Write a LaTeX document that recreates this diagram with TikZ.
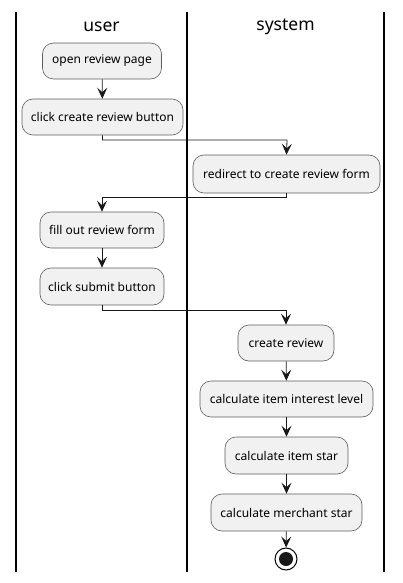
\documentclass[tikz,border=0pt]{standalone}
\usepackage{fontspec}
\setmainfont{Noto Sans}
\usetikzlibrary{arrows.meta}
\definecolor{boxfill}{HTML}{F1F1F1}
\definecolor{boxline}{HTML}{181818}
\tikzset{
  act/.style={draw=boxline!70, fill=boxfill, rounded corners=11pt, line width=0.6pt,
    minimum height=36pt, inner sep=0pt, font=\fontsize{12}{14}\selectfont},
  flow/.style={draw=boxline, line width=0.8pt, -{Stealth[length=11pt,width=10pt,inset=4.5pt]}},
  lane/.style={draw=black, line width=1.3pt},
  lanetitle/.style={font=\fontsize{17.5}{20}\selectfont, inner sep=0pt}
}
\begin{document}
\begin{tikzpicture}[x=1pt,y=-1pt]
\useasboundingbox (0,0) rectangle (402,583);
\coordinate (l1t) at (16,12); \coordinate (l1b) at (16,572);
\coordinate (l2t) at (187,12); \coordinate (l2b) at (187,572);
\coordinate (l3t) at (384,12); \coordinate (l3b) at (384,572);
\draw[lane] (l1t) -- (l1b);
\draw[lane] (l2t) -- (l2b);
\draw[lane] (l3t) -- (l3b);
\node[lanetitle] (tu) at (101.5,27) {user};
\node[lanetitle] (ts) at (285.5,27) {system};

\node[act, minimum width=119pt] (a1) at (102,61) {open review page};
\node[act, minimum width=161pt] (a2) at (102.5,117) {click create review button};
\node[act, minimum width=187pt, minimum height=38pt] (a3) at (286.5,174) {redirect to create review form};
\node[act, minimum width=124pt] (a4) at (102,230) {fill out review form};
\node[act, minimum width=124pt, minimum height=37pt] (a5) at (102,286.5) {click submit button};
\node[act, minimum width=96pt] (a6) at (286,343) {create review};
\node[act, minimum width=173pt] (a7) at (286.5,399) {calculate item interest level};
\node[act, minimum width=123pt, minimum height=37pt] (a8) at (286.5,455.5) {calculate item star};
\node[act, minimum width=151pt, minimum height=37pt] (a9) at (286.5,512.5) {calculate merchant star};
\node[circle, draw=black, line width=1pt, fill=white, minimum size=22pt, inner sep=0pt] (end) at (286,559) {};
\node[circle, fill=boxline, minimum size=14pt, inner sep=0pt] (endin) at (end.center) {};

\draw[flow] (a1) -- (a2);
\draw[flow] (a2.south) |- (287,140) -- (a3.north);
\draw[flow] (a3.south) |- (102,197) -- (a4.north);
\draw[flow] (a4) -- (a5);
\draw[flow] (a5.south) |- (286,310) -- (a6.north);
\draw[flow] (a6) -- (a7);
\draw[flow] (a7) -- (a8);
\draw[flow] (a8) -- (a9);
\draw[flow] (a9) -- (end);
\end{tikzpicture}
\end{document}
